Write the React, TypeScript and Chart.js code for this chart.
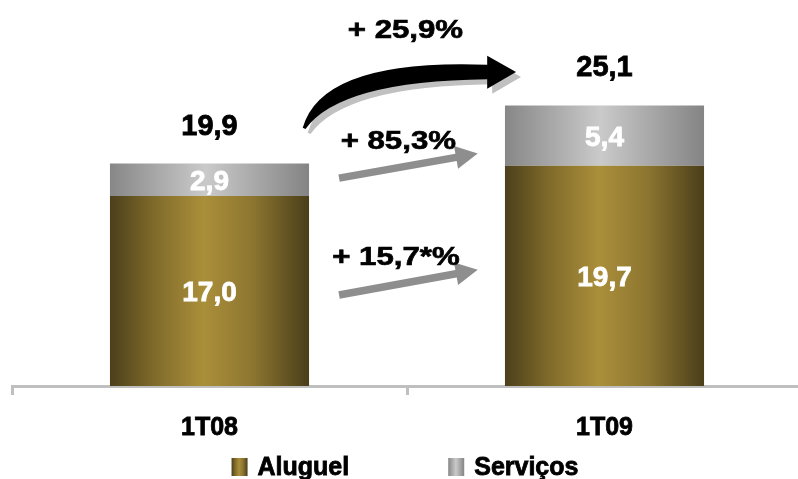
import React, { useEffect, useRef } from 'react';
import { Chart, registerables } from 'chart.js';

Chart.register(...registerables);

// ---- data ----
const categories = ['1T08', '1T09'];
const seriesNames = ['Aluguel', 'Serviços'];
const aluguel = [17.0, 19.7];
const servicos = [2.9, 5.4];
const totals = [19.9, 25.1];
const growthLabels = ['+ 25,9%', '+ 85,3%', '+ 15,7*%'];

// ---- annotation placement (x in category units from first category, y in data units) ----
const growthTextU = [0.496, 0.478, 0.472];
const growthTextV = [31.15, 21.2, 10.83];
const grayArrowTail = [
  [0.328, 18.6],
  [0.328, 8.15],
];
const grayArrowTip = [
  [0.679, 20.8],
  [0.679, 10.4],
];

const FONT = "'Liberation Sans', Arial, sans-serif";
const BAR_PCT = 0.504;
const STROKE = 0.8;

const GOLD: [number, string][] = [
  [0, '#4c401b'],
  [0.22, '#7f6a2a'],
  [0.47, '#aa8f3a'],
  [0.72, '#8c7530'],
  [1, '#4a3e1a'],
];
const GRAY: [number, string][] = [
  [0, '#878787'],
  [0.48, '#cacaca'],
  [1, '#848484'],
];

const fmt = (v: number) => v.toFixed(1).replace('.', ',');

function makeGrad(ctx: CanvasRenderingContext2D, x0: number, x1: number, stops: [number, string][]) {
  const g = ctx.createLinearGradient(x0, 0, x1, 0);
  stops.forEach(([o, c]) => g.addColorStop(o, c));
  return g;
}

function barFill(stops: [number, string][]) {
  return (c: any) => {
    const chart = c.chart;
    const x = chart.scales?.x;
    if (!x || c.type !== 'data' || !chart.chartArea) return stops[Math.floor(stops.length / 2)][1];
    const cx = x.getPixelForValue(c.dataIndex);
    const w = (x.width / categories.length) * BAR_PCT;
    return makeGrad(chart.ctx, cx - w / 2, cx + w / 2, stops);
  };
}

function upx(chart: any, u: number) {
  const x = chart.scales.x;
  const a = x.getPixelForValue(0);
  const b = x.getPixelForValue(1);
  return a + u * (b - a);
}
function vpy(chart: any, v: number) {
  return chart.scales.y.getPixelForValue(v);
}

function boldText(ctx: CanvasRenderingContext2D, text: string, x: number, y: number) {
  ctx.fillText(text, x, y);
  ctx.strokeText(text, x, y);
}

function drawStretched(ctx: CanvasRenderingContext2D, text: string, cx: number, baseline: number, size: number, sx: number) {
  ctx.save();
  ctx.font = `bold ${size}px ${FONT}`;
  ctx.textAlign = 'center';
  ctx.textBaseline = 'alphabetic';
  ctx.strokeStyle = ctx.fillStyle as string;
  ctx.lineWidth = STROKE / sx;
  ctx.translate(cx, baseline);
  ctx.scale(sx, 1);
  boldText(ctx, text, 0, 0);
  ctx.restore();
}

function straightArrow(ctx: CanvasRenderingContext2D, x0: number, y0: number, x1: number, y1: number, color: string) {
  const dx = x1 - x0;
  const dy = y1 - y0;
  const len = Math.hypot(dx, dy);
  const ux = dx / len;
  const uy = dy / len;
  const nx = -uy;
  const ny = ux;
  const headLen = 22;
  const headHalf = 11.5;
  const shaftHalf = 3.8;
  const bx = x1 - ux * headLen;
  const by = y1 - uy * headLen;
  ctx.save();
  ctx.fillStyle = color;
  ctx.beginPath();
  ctx.moveTo(x0 + nx * shaftHalf, y0 + ny * shaftHalf);
  ctx.lineTo(bx + nx * shaftHalf, by + ny * shaftHalf);
  ctx.lineTo(bx + nx * headHalf, by + ny * headHalf);
  ctx.lineTo(x1, y1);
  ctx.lineTo(bx - nx * headHalf, by - ny * headHalf);
  ctx.lineTo(bx - nx * shaftHalf, by - ny * shaftHalf);
  ctx.lineTo(x0 - nx * shaftHalf, y0 - ny * shaftHalf);
  ctx.closePath();
  ctx.fill();
  ctx.restore();
}

// curved arrow key points in (u, v)
const curve = {
  tail: [0.236, 23.1],
  upperCtrl: [0.285, 29.3],
  upperEnd: [0.703, 28.75],
  headTop: [0.703, 29.55],
  tip: [0.776, 28.1],
  headBottom: [0.703, 26.6],
  lowerEnd: [0.703, 27.45],
  lowerCtrl: [0.33, 27.3],
  tailLow: [0.243, 23.0],
};

function curvedArrow(chart: any, ctx: CanvasRenderingContext2D, ox: number, oy: number, color: string) {
  const P = (p: number[]) => [upx(chart, p[0]) + ox, vpy(chart, p[1]) + oy];
  const t = P(curve.tail);
  const uc = P(curve.upperCtrl);
  const ue = P(curve.upperEnd);
  const ht = P(curve.headTop);
  const tp = P(curve.tip);
  const hb = P(curve.headBottom);
  const le = P(curve.lowerEnd);
  const lc = P(curve.lowerCtrl);
  const tl = P(curve.tailLow);
  ctx.save();
  ctx.fillStyle = color;
  ctx.beginPath();
  ctx.moveTo(t[0], t[1]);
  ctx.quadraticCurveTo(uc[0], uc[1], ue[0], ue[1]);
  ctx.lineTo(ht[0], ht[1]);
  ctx.lineTo(tp[0], tp[1]);
  ctx.lineTo(hb[0], hb[1]);
  ctx.lineTo(le[0], le[1]);
  ctx.quadraticCurveTo(lc[0], lc[1], tl[0], tl[1]);
  ctx.closePath();
  ctx.fill();
  ctx.restore();
}

const overlayPlugin = {
  id: 'overlay',
  afterDatasetsDraw(chart: any) {
    const ctx: CanvasRenderingContext2D = chart.ctx;
    // values inside bars
    ctx.save();
    ctx.fillStyle = '#ffffff';
    ctx.strokeStyle = '#ffffff';
    ctx.lineWidth = STROKE;
    ctx.font = `bold 28px ${FONT}`;
    ctx.textAlign = 'center';
    ctx.textBaseline = 'alphabetic';
    chart.data.datasets.forEach((ds: any, di: number) => {
      const meta = chart.getDatasetMeta(di);
      meta.data.forEach((el: any, i: number) => {
        const { x, y, base } = el.getProps(['x', 'y', 'base'], true);
        boldText(ctx, fmt(ds.data[i]), x, (y + base) / 2 + 10);
      });
    });
    // totals
    ctx.fillStyle = '#000000';
    ctx.strokeStyle = '#000000';
    ctx.font = `bold 29px ${FONT}`;
    totals.forEach((t, i) => {
      const x = chart.scales.x.getPixelForValue(i);
      const y = chart.scales.y.getPixelForValue(t);
      boldText(ctx, fmt(t), x, y - 29);
    });
    ctx.restore();

    // arrows
    curvedArrow(chart, ctx, 5, 5, '#c0c0c0');
    curvedArrow(chart, ctx, 0, 0, '#000000');
    grayArrowTail.forEach((tail, i) => {
      const tip = grayArrowTip[i];
      straightArrow(ctx, upx(chart, tail[0]), vpy(chart, tail[1]), upx(chart, tip[0]), vpy(chart, tip[1]), '#8e8e8e');
    });

    // growth texts
    ctx.save();
    ctx.fillStyle = '#000000';
    growthLabels.forEach((g, i) => {
      drawStretched(ctx, g, upx(chart, growthTextU[i]), vpy(chart, growthTextV[i]), 26, 1.2);
    });
    ctx.restore();

    // legend
    ctx.save();
    ctx.font = `bold 25px ${FONT}`;
    ctx.textBaseline = 'middle';
    ctx.textAlign = 'left';
    ctx.lineWidth = STROKE;
    const boxW = 16;
    const boxH = 18;
    const gapBT = 10;
    const gapItems = 99;
    const widths = seriesNames.map((n) => ctx.measureText(n).width);
    const total = widths.reduce((a, w) => a + boxW + gapBT + w, 0) + gapItems * (seriesNames.length - 1);
    const area = chart.chartArea;
    let lx = (area.left + 798) / 2 - total / 2;
    const ly = 467;
    const stopsList = [GOLD, GRAY];
    seriesNames.forEach((n, i) => {
      ctx.fillStyle = makeGrad(ctx, lx, lx + boxW, stopsList[i]);
      ctx.fillRect(lx, ly - boxH / 2, boxW, boxH);
      ctx.fillStyle = '#000000';
      ctx.strokeStyle = '#000000';
      boldText(ctx, n, lx + boxW + gapBT, ly + 1);
      lx += boxW + gapBT + widths[i] + gapItems;
    });
    ctx.restore();
  },
};

export default function App() {
  const ref = useRef<HTMLCanvasElement | null>(null);
  useEffect(() => {
    if (!ref.current) return;
    const chart = new Chart(ref.current, {
      type: 'bar',
      data: {
        labels: categories,
        datasets: [
          {
            label: seriesNames[0],
            data: aluguel,
            backgroundColor: barFill(GOLD),
            borderWidth: 0,
            barPercentage: BAR_PCT,
            categoryPercentage: 1,
          },
          {
            label: seriesNames[1],
            data: servicos,
            backgroundColor: barFill(GRAY),
            borderWidth: 0,
            barPercentage: BAR_PCT,
            categoryPercentage: 1,
          },
        ],
      },
      options: {
        responsive: false,
        animation: false,
        layout: { padding: { left: 12, right: 0, top: 6, bottom: 18 } },
        plugins: {
          legend: { display: false },
          tooltip: { enabled: false },
        },
        scales: {
          x: {
            stacked: true,
            grid: {
              display: true,
              drawOnChartArea: false,
              drawTicks: true,
              tickLength: 9,
              color: '#bfbfbf',
              lineWidth: 3,
              offset: true,
            },
            border: { display: true, color: '#bfbfbf', width: 3 },
            ticks: {
              color: '#000000',
              font: { family: FONT, weight: 'bold', size: 25 },
              padding: 18,
              textStrokeColor: '#000000',
              textStrokeWidth: STROKE,
            },
          },
          y: {
            stacked: true,
            display: false,
            min: 0,
            max: 34,
          },
        },
      },
      plugins: [overlayPlugin],
    });
    return () => chart.destroy();
  }, []);
  return (
    <div style={{ position: 'fixed', left: 0, top: 0, width: 798, height: 479, overflow: 'hidden', background: '#ffffff' }}>
      <canvas ref={ref} width={802} height={479} style={{ display: 'block', width: 802, height: 479 }} />
    </div>
  );
}
